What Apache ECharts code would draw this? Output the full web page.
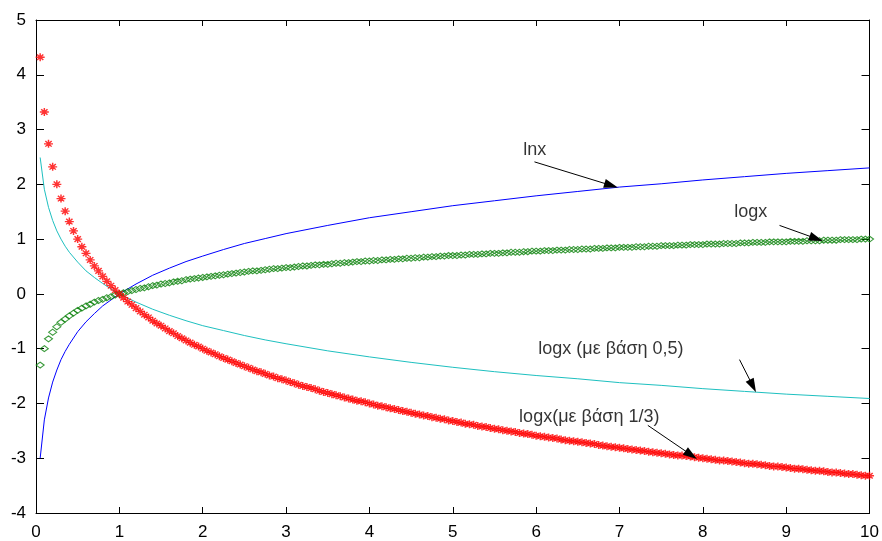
<!DOCTYPE html>
<html>
<head>
<meta charset="utf-8">
<script src="https://cdn.jsdelivr.net/npm/echarts@6/dist/echarts.min.js"></script>
<style>
  html, body { margin: 0; padding: 0; background: #fff; }
  #chart { width: 882px; height: 541px; }
</style>
</head>
<body>
<div id="chart"></div>
<script>
// Sample positions used by the point series (step 0.05 from 0.05 to 10)
const xs = [
  0.05,0.1,0.15,0.2,0.25,0.3,0.35,0.4,0.45,0.5,
  0.55,0.6,0.65,0.7,0.75,0.8,0.85,0.9,0.95,1,
  1.05,1.1,1.15,1.2,1.25,1.3,1.35,1.4,1.45,1.5,
  1.55,1.6,1.65,1.7,1.75,1.8,1.85,1.9,1.95,2,
  2.05,2.1,2.15,2.2,2.25,2.3,2.35,2.4,2.45,2.5,
  2.55,2.6,2.65,2.7,2.75,2.8,2.85,2.9,2.95,3,
  3.05,3.1,3.15,3.2,3.25,3.3,3.35,3.4,3.45,3.5,
  3.55,3.6,3.65,3.7,3.75,3.8,3.85,3.9,3.95,4,
  4.05,4.1,4.15,4.2,4.25,4.3,4.35,4.4,4.45,4.5,
  4.55,4.6,4.65,4.7,4.75,4.8,4.85,4.9,4.95,5,
  5.05,5.1,5.15,5.2,5.25,5.3,5.35,5.4,5.45,5.5,
  5.55,5.6,5.65,5.7,5.75,5.8,5.85,5.9,5.95,6,
  6.05,6.1,6.15,6.2,6.25,6.3,6.35,6.4,6.45,6.5,
  6.55,6.6,6.65,6.7,6.75,6.8,6.85,6.9,6.95,7,
  7.05,7.1,7.15,7.2,7.25,7.3,7.35,7.4,7.45,7.5,
  7.55,7.6,7.65,7.7,7.75,7.8,7.85,7.9,7.95,8,
  8.05,8.1,8.15,8.2,8.25,8.3,8.35,8.4,8.45,8.5,
  8.55,8.6,8.65,8.7,8.75,8.8,8.85,8.9,8.95,9,
  9.05,9.1,9.15,9.2,9.25,9.3,9.35,9.4,9.45,9.5,
  9.55,9.6,9.65,9.7,9.75,9.8,9.85,9.9,9.95,10
];

// logx (green diamonds)
const logxVals = [
  -1.30,-1.00,-0.82,-0.70,-0.60,-0.52,-0.46,-0.40,-0.35,-0.30,
  -0.26,-0.22,-0.19,-0.15,-0.12,-0.10,-0.07,-0.05,-0.02,0.00,
  0.02,0.04,0.06,0.08,0.10,0.11,0.13,0.15,0.16,0.18,
  0.19,0.20,0.22,0.23,0.24,0.26,0.27,0.28,0.29,0.30,
  0.31,0.32,0.33,0.34,0.35,0.36,0.37,0.38,0.39,0.40,
  0.41,0.42,0.42,0.43,0.44,0.45,0.46,0.46,0.47,0.48,
  0.48,0.49,0.50,0.51,0.51,0.52,0.53,0.53,0.54,0.54,
  0.55,0.56,0.56,0.57,0.57,0.58,0.59,0.59,0.60,0.60,
  0.61,0.61,0.62,0.62,0.63,0.63,0.64,0.64,0.65,0.65,
  0.66,0.66,0.67,0.67,0.68,0.68,0.69,0.69,0.70,0.70,
  0.70,0.71,0.71,0.72,0.72,0.72,0.73,0.73,0.74,0.74,
  0.74,0.75,0.75,0.76,0.76,0.76,0.77,0.77,0.78,0.78,
  0.78,0.79,0.79,0.79,0.80,0.80,0.80,0.81,0.81,0.81,
  0.82,0.82,0.82,0.83,0.83,0.83,0.84,0.84,0.84,0.85,
  0.85,0.85,0.85,0.86,0.86,0.86,0.87,0.87,0.87,0.88,
  0.88,0.88,0.88,0.89,0.89,0.89,0.90,0.90,0.90,0.90,
  0.91,0.91,0.91,0.91,0.92,0.92,0.92,0.92,0.93,0.93,
  0.93,0.94,0.94,0.94,0.94,0.95,0.95,0.95,0.95,0.95,
  0.96,0.96,0.96,0.96,0.97,0.97,0.97,0.97,0.98,0.98,
  0.98,0.98,0.99,0.99,0.99,0.99,0.99,1.00,1.00,1.00
];

// red star series
const redVals = [
  4.32,3.32,2.74,2.32,2.00,1.74,1.51,1.32,1.15,1.00,
  0.86,0.74,0.62,0.51,0.42,0.32,0.23,0.15,0.07,0.00,
  -0.07,-0.14,-0.20,-0.26,-0.32,-0.38,-0.43,-0.49,-0.54,-0.58,
  -0.63,-0.68,-0.72,-0.77,-0.81,-0.85,-0.89,-0.93,-0.96,-1.00,
  -1.04,-1.07,-1.10,-1.14,-1.17,-1.20,-1.23,-1.26,-1.29,-1.32,
  -1.35,-1.38,-1.41,-1.43,-1.46,-1.49,-1.51,-1.54,-1.56,-1.58,
  -1.61,-1.63,-1.66,-1.68,-1.70,-1.72,-1.74,-1.77,-1.79,-1.81,
  -1.83,-1.85,-1.87,-1.89,-1.91,-1.93,-1.95,-1.96,-1.98,-2.00,
  -2.02,-2.04,-2.05,-2.07,-2.09,-2.10,-2.12,-2.14,-2.15,-2.17,
  -2.19,-2.20,-2.22,-2.23,-2.25,-2.26,-2.28,-2.29,-2.31,-2.32,
  -2.34,-2.35,-2.37,-2.38,-2.39,-2.41,-2.42,-2.43,-2.45,-2.46,
  -2.47,-2.49,-2.50,-2.51,-2.52,-2.54,-2.55,-2.56,-2.57,-2.59,
  -2.60,-2.61,-2.62,-2.63,-2.64,-2.66,-2.67,-2.68,-2.69,-2.70,
  -2.71,-2.72,-2.73,-2.74,-2.76,-2.77,-2.78,-2.79,-2.80,-2.81,
  -2.82,-2.83,-2.84,-2.85,-2.86,-2.87,-2.88,-2.89,-2.90,-2.91,
  -2.92,-2.93,-2.94,-2.95,-2.95,-2.96,-2.97,-2.98,-2.99,-3.00,
  -3.01,-3.02,-3.03,-3.04,-3.04,-3.05,-3.06,-3.07,-3.08,-3.09,
  -3.10,-3.10,-3.11,-3.12,-3.13,-3.14,-3.15,-3.15,-3.16,-3.17,
  -3.18,-3.19,-3.19,-3.20,-3.21,-3.22,-3.23,-3.23,-3.24,-3.25,
  -3.26,-3.26,-3.27,-3.28,-3.29,-3.29,-3.30,-3.31,-3.32,-3.32
];

// Sample positions for the two continuous curves
const lineXs = [0.05,0.1,0.15,0.2,0.25,0.3,0.35,0.4,0.5,0.6,0.7,0.8,0.9,1,
  1.2,1.4,1.6,1.8,2,2.25,2.5,2.75,3,3.5,4,4.5,5,5.5,6,6.5,7,7.5,8,8.5,9,9.5,10];

// lnx (blue)
const lnVals = [-3.00,-2.30,-1.90,-1.61,-1.39,-1.20,-1.05,-0.92,-0.69,-0.51,-0.36,-0.22,-0.11,0,
  0.18,0.34,0.47,0.59,0.69,0.81,0.92,1.01,1.10,1.25,1.39,1.50,1.61,1.70,1.79,1.87,1.95,2.01,2.08,2.14,2.20,2.25,2.30];

// cyan curve
const cyanVals = [2.49,1.91,1.58,1.34,1.15,1.00,0.87,0.76,0.58,0.42,0.30,0.19,0.09,0,
  -0.15,-0.28,-0.39,-0.49,-0.58,-0.67,-0.76,-0.84,-0.91,-1.04,-1.15,-1.25,-1.34,-1.42,-1.49,-1.55,-1.62,-1.67,-1.73,-1.78,-1.83,-1.87,-1.91];

// Annotation texts, anchored at their left edge / vertical centre
const noteTexts = ['lnx', 'logx', 'logx (με βάση 0,5)', 'logx(με βάση 1/3)'];
const noteX = [5.84, 8.37, 6.02, 5.79];
const noteY = [2.63, 1.49, -1.01, -2.25];

// Arrows: tail -> centre of the arrowhead
const arrowFrom = [[5.98, 2.41], [8.92, 1.25], [8.44, -1.20], [7.34, -2.40]];
const arrowTo   = [[6.90, 1.98], [9.36, 1.01], [8.60, -1.68], [7.86, -2.94]];

const xTicks = [0,1,2,3,4,5,6,7,8,9,10];
const yTicks = [-4,-3,-2,-1,0,1,2,3,4,5];

const FONT = 'Liberation Sans, Arial, sans-serif';
const zip = (a, b) => a.map((v, i) => [v, b[i]]);

const axisCommon = {
  type: 'value',
  axisLine: { show: true, onZero: false, lineStyle: { color: '#000', width: 1 } },
  axisTick: { show: true, inside: true, lineStyle: { color: '#000', width: 1 } },
  splitLine: { show: false }
};

const chart = echarts.init(document.getElementById('chart'), null, { renderer: 'canvas' });

chart.setOption({
  animation: false,
  backgroundColor: '#fff',
  grid: { left: 36, right: 9, top: 20, bottom: 24, containLabel: false },
  xAxis: [
    Object.assign({}, axisCommon, {
      position: 'bottom', min: xTicks[0], max: xTicks[xTicks.length - 1], interval: 1,
      axisTick: Object.assign({}, axisCommon.axisTick, { length: 6 }),
      axisLabel: { show: true, margin: 11, fontSize: 17, color: '#000', fontFamily: FONT }
    }),
    Object.assign({}, axisCommon, {
      position: 'top', min: xTicks[0], max: xTicks[xTicks.length - 1], interval: 1,
      axisTick: Object.assign({}, axisCommon.axisTick, { length: 6 }),
      axisLabel: { show: false }
    })
  ],
  yAxis: [
    Object.assign({}, axisCommon, {
      position: 'left', min: yTicks[0], max: yTicks[yTicks.length - 1], interval: 1,
      axisTick: Object.assign({}, axisCommon.axisTick, { length: 8 }),
      axisLabel: { show: true, margin: 10, fontSize: 17, color: '#000', fontFamily: FONT }
    }),
    Object.assign({}, axisCommon, {
      position: 'right', min: yTicks[0], max: yTicks[yTicks.length - 1], interval: 1,
      axisTick: Object.assign({}, axisCommon.axisTick, { length: 8 }),
      axisLabel: { show: false }
    })
  ],
  series: [
    {
      name: 'lnx', type: 'line', data: zip(lineXs, lnVals),
      showSymbol: false, smooth: false,
      lineStyle: { color: '#0000ff', width: 1 }, itemStyle: { color: '#0000ff' }, z: 2
    },
    {
      name: 'cyan', type: 'line', data: zip(lineXs, cyanVals),
      showSymbol: false, smooth: false,
      lineStyle: { color: '#1ec0c0', width: 1 }, itemStyle: { color: '#1ec0c0' }, z: 2
    },
    {
      name: 'logx', type: 'scatter', data: zip(xs, logxVals),
      symbol: 'diamond', symbolSize: [8, 6],
      itemStyle: { color: 'rgba(0,0,0,0)', borderColor: '#0b820b', borderWidth: 1.1 }, z: 3
    },
    {
      name: 'red', type: 'scatter', data: zip(xs, redVals),
      symbol: 'path://M0,-1L0,1M-1,0L1,0M-0.7,-0.7L0.7,0.7M-0.7,0.7L0.7,-0.7',
      symbolSize: [9, 8],
      itemStyle: { color: 'rgba(0,0,0,0)', borderColor: '#ff0000', borderWidth: 1.4 }, z: 4
    },
    {
      name: 'notes', type: 'scatter',
      data: noteTexts.map((t, i) => ({ value: [noteX[i], noteY[i]], name: t })),
      symbolSize: 1, itemStyle: { color: 'rgba(0,0,0,0)' }, z: 5,
      label: {
        show: true, position: 'right', distance: 0,
        formatter: p => p.name, fontSize: 18, color: '#000', fontFamily: FONT
      },
      markLine: {
        silent: true, animation: false,
        symbol: ['none', 'triangle'], symbolSize: [9, 14],
        label: { show: false },
        lineStyle: { color: '#000', width: 1, type: 'solid' },
        data: arrowFrom.map((a, i) => [{ coord: a }, { coord: arrowTo[i] }])
      }
    }
  ]
});
</script>
</body>
</html>
